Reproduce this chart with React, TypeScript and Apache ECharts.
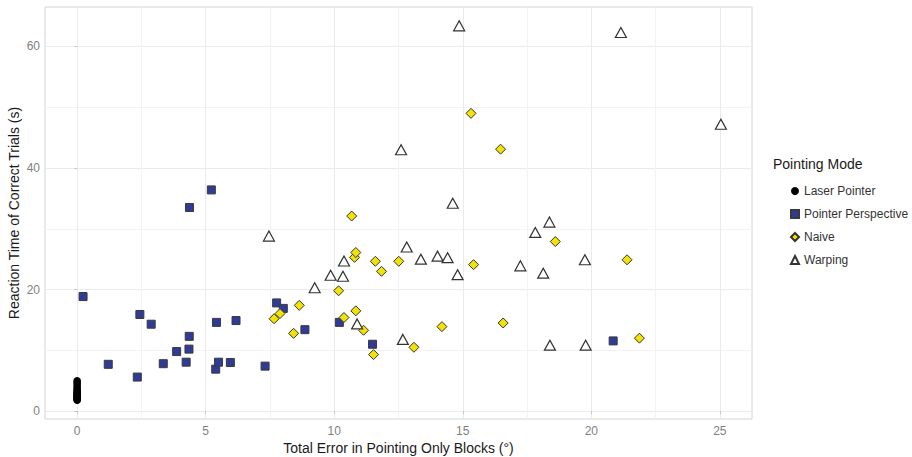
import React, { useEffect, useRef } from "react";
import * as echarts from "echarts";

const xTicks = [0, 5, 10, 15, 20, 25];
const xMinorTicks = [2.5, 7.5, 12.5, 17.5, 22.5];
const yTicks = [0, 20, 40, 60];
const yMinorTicks = [10, 30, 50];

const seriesNames = ["Laser Pointer", "Pointer Perspective", "Naive", "Warping"];

const laserPointer: number[][] = [
  [0, 1.8], [0, 1.9], [0, 2.0], [0, 2.1], [0, 2.2], [0, 2.3], [0, 2.4], [0, 2.5],
  [0, 2.6], [0, 2.8], [0, 2.9], [0, 3.0], [0, 3.2], [0, 3.4], [0, 3.6], [0, 3.9],
  [0, 4.2], [0, 4.5], [0, 4.8], [0, 5.0],
];

const pointerPerspective: number[][] = [
  [0.23, 18.85], [1.21, 7.7], [2.34, 5.6], [2.44, 15.9], [2.88, 14.3], [3.35, 7.8],
  [3.87, 9.8], [4.24, 8.05], [4.35, 10.2], [4.36, 12.3], [4.37, 33.5], [5.22, 36.4],
  [5.39, 6.9], [5.42, 14.6], [5.5, 8.05], [5.96, 8.0], [6.18, 14.9], [7.31, 7.4],
  [7.76, 17.8], [8.02, 16.9], [8.86, 13.4], [10.2, 14.6], [11.49, 11.0], [20.85, 11.55],
];

const naive: number[][] = [
  [7.66, 15.2], [7.89, 16.05], [8.42, 12.8], [8.64, 17.4], [10.17, 19.8], [10.38, 15.4],
  [10.68, 32.1], [10.79, 25.3], [10.84, 26.1], [10.84, 16.5], [11.14, 13.3], [11.53, 9.3],
  [11.6, 24.65], [11.84, 23.0], [12.51, 24.65], [13.1, 10.5], [14.19, 13.9], [15.32, 49.0],
  [15.42, 24.1], [16.47, 43.1], [16.57, 14.5], [18.6, 27.9], [21.39, 24.9], [21.87, 12.0],
];

const warping: number[][] = [
  [7.46, 28.8], [9.24, 20.3], [9.86, 22.35], [10.34, 22.2], [10.38, 24.7], [10.89, 14.35],
  [12.6, 43.0], [12.67, 11.8], [12.82, 27.0], [13.37, 25.0], [14.02, 25.5], [14.41, 25.25],
  [14.61, 34.2], [14.8, 22.45], [14.86, 63.4], [17.24, 23.9], [17.82, 29.4], [18.13, 22.7],
  [18.37, 31.1], [18.39, 10.85], [19.75, 24.9], [19.78, 10.85], [21.15, 62.3], [25.04, 47.2],
];

const FONT = "Liberation Sans, Arial, Helvetica, sans-serif";

export default function App() {
  const ref = useRef<HTMLDivElement>(null);

  useEffect(() => {
    if (!ref.current) return;
    const chart = echarts.init(ref.current, null, { renderer: "svg" });
    const xMin = -1.25, xMax = 26.25, yMin = -1.3, yMax = 66.5;

    const option: any = {
      animation: false,
      textStyle: { fontFamily: FONT },
      grid: {
        left: 45, right: 160, top: 7, bottom: 38,
        outerBoundsMode: "none",
        containLabel: false,
        show: true, borderColor: "#d4d4d4", borderWidth: 1, backgroundColor: "transparent",
      },
      xAxis: [
        {
          type: "value", min: xMin, max: xMax,
          name: "Total Error in Pointing Only Blocks (°)",
          nameLocation: "middle", nameGap: 22, nameMoveOverlap: false,
          nameTextStyle: { fontSize: 14, color: "#1a1a1a", fontFamily: FONT },
          axisLine: { show: false },
          axisTick: { show: true, length: 3, customValues: xTicks, lineStyle: { color: "#c8c8c8" } },
          axisLabel: { customValues: xTicks, color: "#7f7f7f", fontSize: 12, margin: 6, fontFamily: FONT },
          splitLine: { show: true, lineStyle: { color: "#ebebeb", width: 1 } },
        },
        {
          type: "value", min: xMin, max: xMax, position: "bottom",
          axisLine: { show: false },
          axisTick: { show: false, customValues: xMinorTicks },
          axisLabel: { show: false, customValues: xMinorTicks },
          splitLine: { show: true, lineStyle: { color: "#f3f3f3", width: 1 } },
        },
      ],
      yAxis: [
        {
          type: "value", min: yMin, max: yMax,
          name: "Reaction Time of Correct Trials (s)",
          nameLocation: "middle", nameGap: 24, nameMoveOverlap: false,
          nameTextStyle: { fontSize: 14, color: "#1a1a1a", fontFamily: FONT },
          axisLine: { show: false },
          axisTick: { show: true, length: 3, customValues: yTicks, lineStyle: { color: "#c8c8c8" } },
          axisLabel: { customValues: yTicks, color: "#7f7f7f", fontSize: 12, margin: 5, fontFamily: FONT },
          splitLine: { show: true, lineStyle: { color: "#ebebeb", width: 1 } },
        },
        {
          type: "value", min: yMin, max: yMax, position: "left",
          axisLine: { show: false },
          axisTick: { show: false, customValues: yMinorTicks },
          axisLabel: { show: false, customValues: yMinorTicks },
          splitLine: { show: true, lineStyle: { color: "#f3f3f3", width: 1 } },
        },
      ],
      legend: {
        orient: "vertical",
        left: 785, top: 179,
        itemWidth: 8, itemHeight: 8, itemGap: 9,
        textStyle: { fontSize: 12, lineHeight: 14, color: "#333", fontFamily: FONT },
        data: [
          { name: seriesNames[0], icon: "circle" },
          { name: seriesNames[1], icon: "rect" },
          { name: seriesNames[2], icon: "diamond" },
          { name: seriesNames[3], icon: "triangle" },
        ],
      },
      graphic: [
        {
          type: "text", left: 773, top: 157,
          style: { text: "Pointing Mode", fontSize: 14, fill: "#1a1a1a", fontFamily: FONT },
        },
      ],
      series: [
        {
          name: seriesNames[0], type: "scatter", data: laserPointer,
          symbol: "circle", symbolSize: 7.5,
          itemStyle: { color: "#000000", opacity: 1 },
        },
        {
          name: seriesNames[1], type: "scatter", data: pointerPerspective,
          symbol: "rect", symbolSize: 8,
          itemStyle: { color: "#2f3b96", borderColor: "#3a3a3a", borderWidth: 1, opacity: 1 },
        },
        {
          name: seriesNames[2], type: "scatter", data: naive,
          symbol: "diamond", symbolSize: 10,
          itemStyle: { color: "#f2e205", borderColor: "#333333", borderWidth: 1, opacity: 1 },
        },
        {
          name: seriesNames[3], type: "scatter", data: warping,
          symbol: "triangle", symbolSize: [11, 10],
          itemStyle: { color: "#ffffff", borderColor: "#333333", borderWidth: 1.2, opacity: 1 },
        },
      ],
    };
    chart.setOption(option);
    return () => chart.dispose();
  }, []);

  return (
    <div
      ref={ref}
      style={{ position: "fixed", left: 0, top: 0, width: 912, height: 457, background: "#fff" }}
    />
  );
}
